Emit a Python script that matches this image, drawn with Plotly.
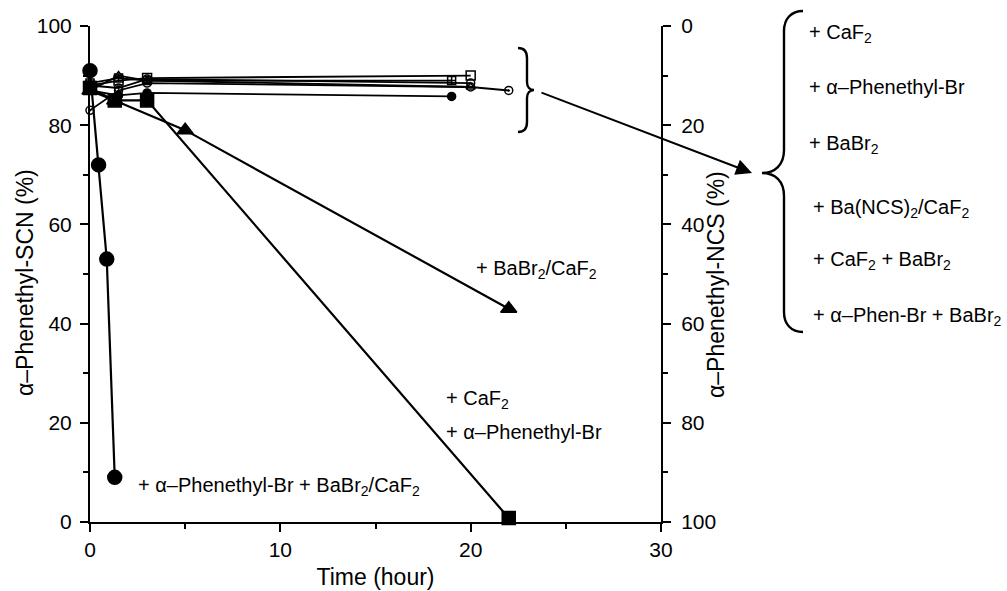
import plotly.graph_objects as go

# ---------------- data ----------------
# main reacting series (alpha-Phenethyl-SCN %, left axis)
t_phbr_babr_caf = [0, 0.45, 0.88, 1.3]
y_phbr_babr_caf = [91, 72, 53, 9]

t_babr_caf = [0, 1.3, 5, 22]
y_babr_caf = [87, 85, 79, 43]

t_caf_phbr = [0, 1.3, 3, 22]
y_caf_phbr = [87.5, 85, 85, 0.8]

# the near-constant cluster
t_caf = [0, 1.5, 3, 20]
y_caf = [88, 89, 89.5, 90]

t_phbr = [0, 1.5, 3, 19]
y_phbr = [88.5, 89.5, 89, 89]

t_babr = [0, 1.5, 3, 20]
y_babr = [87, 90, 89, 87.7]

t_bancs_caf = [0, 1.5, 3, 19]
y_bancs_caf = [87, 86, 86.5, 85.8]

t_caf_babr = [0, 1.5, 3, 20]
y_caf_babr = [88, 87.5, 89.3, 88.5]

t_phenbr_babr = [0, 1.5, 3, 20, 22]
y_phenbr_babr = [83, 87, 88.5, 87.7, 87]

x_ticks = [0, 10, 20, 30]
y_ticks = [0, 20, 40, 60, 80, 100]

cluster_labels = ["+ CaF<sub>2</sub>", "+ α–Phenethyl-Br", "+ BaBr<sub>2</sub>",
                  "+ Ba(NCS)<sub>2</sub>/CaF<sub>2</sub>", "+ CaF<sub>2</sub> + BaBr<sub>2</sub>",
                  "+ α–Phen-Br + BaBr<sub>2</sub>"]

# ---------------- figure ----------------
W, H = 1007, 591
L, R, T, B = 90, 346, 26, 69
PW, PH = W - L - R, H - T - B
FONT = "Liberation Sans, Arial, Helvetica, sans-serif"

def px(x):
    return (x - L) / PW

def py(y):
    return (H - B - y) / PH

fig = go.Figure()

def add(t, y, symbol, size, lw=2.2, mlw=1.5):
    fig.add_trace(go.Scatter(
        x=t, y=y, mode="lines+markers",
        line=dict(color="black", width=lw),
        marker=dict(symbol=symbol, size=size, color="black",
                    line=dict(color="black", width=mlw)),
        cliponaxis=False, showlegend=False, hoverinfo="x+y"))

# cluster first (behind)
add(t_caf_babr, y_caf_babr, "circle-open", 8, lw=1.8)
add(t_phenbr_babr, y_phenbr_babr, "circle-open-dot", 8, lw=1.8)
add(t_bancs_caf, y_bancs_caf, "circle", 8, lw=1.8)
add(t_babr, y_babr, "triangle-up-open", 8, lw=1.8)
add(t_phbr, y_phbr, "square-cross-open", 8, lw=1.8)
add(t_caf, y_caf, "square-open", 9, lw=1.8)
# main series
add(t_babr_caf, y_babr_caf, "triangle-up", 14)
add(t_caf_phbr, y_caf_phbr, "square", 13)
add(t_phbr_babr_caf, y_phbr_babr_caf, "circle", 14)

# invisible trace to activate the right axis (NCS % = 100 - SCN %)
fig.add_trace(go.Scatter(x=t_phbr_babr_caf, y=[100 - v for v in y_phbr_babr_caf],
                         yaxis="y2", mode="none", showlegend=False, hoverinfo="skip"))

axis_common = dict(showline=True, linecolor="black", linewidth=2, ticks="outside",
                   tickcolor="black", tickwidth=2, ticklen=8, showgrid=False, zeroline=False,
                   automargin=False,
                   tickfont=dict(family=FONT, size=21, color="black"))

def minor(d):
    return dict(ticks="outside", ticklen=5, tickwidth=2, tickcolor="black", dtick=d, tick0=0, showgrid=False)

fig.update_layout(
    width=W, height=H, margin=dict(l=L, r=R, t=T, b=B, autoexpand=False),
    paper_bgcolor="white", plot_bgcolor="white",
    font=dict(family=FONT, color="black"),
    xaxis=dict(range=[0, 30], tickvals=x_ticks, minor=minor(5), **axis_common,
               title=dict(text="Time (hour)", font=dict(family=FONT, size=23), standoff=9)),
    yaxis=dict(range=[0, 100], tickvals=y_ticks, minor=minor(10), ticklabelstandoff=4, **axis_common),
    yaxis2=dict(range=[100, 0], tickvals=y_ticks, overlaying="y", side="right",
                minor=minor(10), ticklabelstandoff=6, **axis_common),
)

# axis titles (vertical)
fig.add_annotation(text="α–Phenethyl-SCN (%)", xref="paper", yref="paper", x=px(25), y=py(283),
                   xanchor="center", yanchor="middle",
                   textangle=-90, showarrow=False, font=dict(family=FONT, size=23))
fig.add_annotation(text="α–Phenethyl-NCS (%)", xref="paper", yref="paper", x=px(716), y=py(285),
                   xanchor="center", yanchor="middle",
                   textangle=-90, showarrow=False, font=dict(family=FONT, size=23))

# in-plot labels
AF = dict(family=FONT, size=20, color="black")
fig.add_annotation(text="+ BaBr<sub>2</sub>/CaF<sub>2</sub>", x=20.2, y=51, xanchor="left",
                   showarrow=False, font=AF)
fig.add_annotation(text="+ CaF<sub>2</sub>", x=18.6, y=24.6, xanchor="left", showarrow=False, font=AF)
fig.add_annotation(text="+ α–Phenethyl-Br", x=18.6, y=18.1, xanchor="left", showarrow=False, font=AF)
fig.add_annotation(text="+ α–Phenethyl-Br + BaBr<sub>2</sub>/CaF<sub>2</sub>", x=2.4, y=7.1,
                   xanchor="left", showarrow=False, font=AF)

# right-hand list
list_y = [33, 87, 145, 209, 260, 316]
list_x = [807, 807, 807, 811, 811, 811]
for lab, lx, ly in zip(cluster_labels, list_x, list_y):
    fig.add_annotation(text=lab, xref="paper", yref="paper", x=px(lx), y=py(ly),
                       xanchor="left", yanchor="middle", showarrow=False, font=AF)

# braces
def path(cmds):
    out = []
    for c in cmds:
        if isinstance(c, str):
            out.append(c)
        else:
            out.append(f"{px(c[0]):.5f},{py(c[1]):.5f}")
    return " ".join(out)

big = path(["M", (803, 11), "C", (791, 11), (784, 19), (784, 31), "L", (784, 150),
            "C", (784, 165), (775, 173), (762, 173), "C", (775, 173), (784, 181), (784, 196),
            "L", (784, 312), "C", (784, 324), (791, 332), (803, 332)])
small = path(["M", (518, 48), "C", (524, 48), (527, 52), (527, 58), "L", (527, 82),
              "C", (527, 87), (530, 90), (534, 90), "C", (530, 90), (527, 93), (527, 98),
              "L", (527, 122), "C", (527, 128), (524, 132), (518, 132)])
for p in (big, small):
    fig.add_shape(type="path", path=p, xref="paper", yref="paper",
                  line=dict(color="black", width=2.4))

# arrow
fig.add_annotation(xref="paper", yref="paper", x=px(752), y=py(173), ax=-212, ay=-81,
                   axref="pixel", ayref="pixel", text="", showarrow=True,
                   arrowhead=2, arrowsize=1.6, arrowwidth=2, arrowcolor="black")

fig.write_html("out.html", config={"displayModeBar": False},
               post_script="document.body.style.margin='0';")
